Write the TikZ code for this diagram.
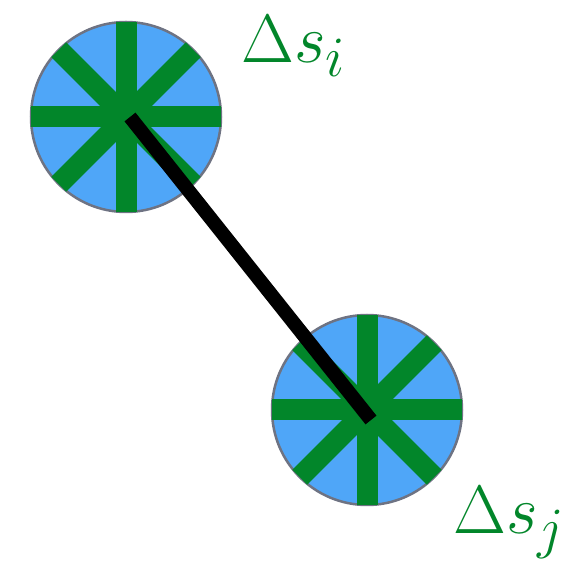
\documentclass[tikz,border=0pt]{standalone}
\usepackage{tikz}
\usetikzlibrary{positioning}
\definecolor{cellblue}{HTML}{4FA6F8}
\definecolor{spokegreen}{HTML}{02862A}
\definecolor{rimgray}{HTML}{6E7383}

\begin{document}
\begin{tikzpicture}[x=1pt,y=1pt,
  cell/.style={circle, draw=rimgray, fill=cellblue, line width=2.5pt, minimum size=190pt, inner sep=0pt},
  spoke/.style={spokegreen, line width=21pt},
  link/.style={black, line width=14pt},
  lbl/.style={text=spokegreen, font=\Huge, scale=2.75, inner sep=0pt}
]
\useasboundingbox (0,0) rectangle (584,562);
\node[cell] (si) at (126,445) {};
\node[cell] (sj) at (367,152) {};
% spokes of both cells
\foreach \n in {si,sj}
  \foreach \a in {0,45,...,315}
    \draw[spoke] (\n.center) -- ++(\a:95);
\draw[link] ([shift={(4,0)}]si.center) -- ([shift={(4,-10)}]sj.center);
\node[lbl, anchor=base west] (lbli) at (241,499) {$\Delta s_i$};
\node[lbl, anchor=base west] (lblj) at (453,28) {$\Delta s_j$};
\end{tikzpicture}
\end{document}
